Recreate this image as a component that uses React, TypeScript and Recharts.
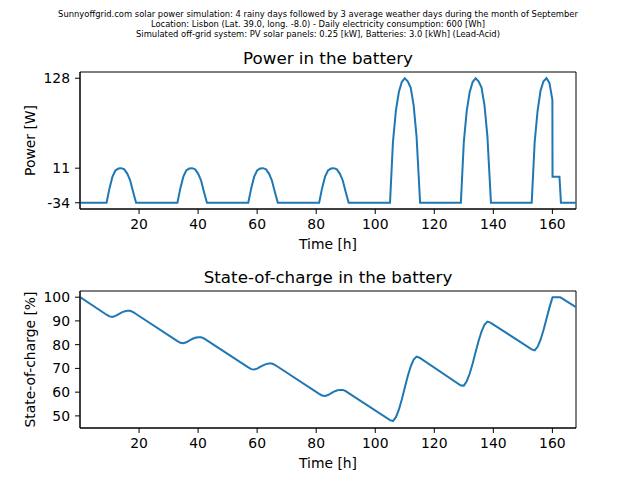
import React from "react";
import { LineChart, Line, XAxis, YAxis, ReferenceArea } from "recharts";

const FONT = "'DejaVu Sans', sans-serif";
const BLUE = "#1f77b4";

const titleLines = [
  "Sunnyoffgrid.com solar power simulation: 4 rainy days followed by 3 average weather days during the month of September",
  "Location: Lisbon (Lat. 39.0, long. -8.0) - Daily electricity consumption: 600 [Wh]",
  "Simulated off-grid system: PV solar panels: 0.25 [kW], Batteries: 3.0 [kWh] (Lead-Acid)",
];

const hourTicks = [20, 40, 60, 80, 100, 120, 140, 160];
const powerTicks = [-34, 11, 128];
const socTicks = [50, 60, 70, 80, 90, 100];

// battery power (vertices only, flat night stretches are two points)
const powerHours = [
  0, 9, 10, 11, 12, 13, 14, 15, 16, 17, 18, 19,
  33, 34, 35, 36, 37, 38, 39, 40, 41, 42, 43,
  57, 58, 59, 60, 61, 62, 63, 64, 65, 66, 67,
  81, 82, 83, 84, 85, 86, 87, 88, 89, 90, 91,
  105, 106, 107, 108, 109, 110, 111, 112, 113, 114, 115.2,
  129, 130, 131, 132, 133, 134, 135, 136, 137, 138, 139.2,
  153, 154, 155, 156, 157, 158, 159, 160, 160.05, 162.4, 162.9, 168,
];
const powerWatts = [
  -34, -34, -15, 0, 8, 10.5, 11, 9.5, 4, -5, -20, -34,
  -34, -15, 0, 8, 10.5, 11, 9.5, 4, -5, -20, -34,
  -34, -15, 0, 8, 10.5, 11, 9.5, 4, -5, -20, -34,
  -34, -15, 0, 8, 10.5, 11, 9.5, 4, -5, -20, -34,
  -34, 45, 86, 110, 123, 128, 124, 116, 93, 52, -34,
  -34, 45, 86, 110, 123, 128, 124, 116, 93, 52, -34,
  -34, 45, 86, 112, 124, 128, 122, 100, 0, 0, -34, -34,
];

// state of charge
const socHours = [
  0, 9, 10, 11, 12, 13, 14, 15, 16, 17, 18, 19,
  33, 34, 35, 36, 37, 38, 39, 40, 41, 42, 43,
  57, 58, 59, 60, 61, 62, 63, 64, 65, 66, 67,
  81, 82, 83, 84, 85, 86, 87, 88, 89, 90, 91,
  105, 106, 107, 108, 109, 110, 111, 112, 113, 114, 115,
  129, 130, 131, 132, 133, 134, 135, 136, 137, 138, 139,
  153, 154, 155, 156, 157, 158, 159, 160, 160.1, 162.6, 163, 168,
];
const socPercent = [
  100, 92.6, 91.9, 91.7, 92.1, 92.8, 93.5, 94.0, 94.25, 94.25, 93.7, 92.9,
  81.5, 80.8, 80.6, 81.0, 81.7, 82.4, 82.9, 83.15, 83.15, 82.6, 81.8,
  70.4, 69.7, 69.5, 69.9, 70.6, 71.3, 71.8, 72.05, 72.05, 71.5, 70.7,
  59.3, 58.6, 58.4, 58.8, 59.5, 60.2, 60.7, 60.95, 60.95, 60.4, 59.6,
  48.2, 47.85, 49.45, 52.6, 56.9, 61.85, 66.7, 70.8, 73.7, 74.95, 74.5,
  62.8, 62.75, 64.6, 67.85, 72.1, 76.9, 81.55, 85.55, 88.4, 89.7, 89.3,
  78.0, 77.6, 79.1, 82.1, 86.2, 90.9, 95.6, 99.8, 100, 100, 99.7, 95.8,
];

const powerData = powerHours.map((t, i) => ({ t, w: powerWatts[i] }));
const socData = socHours.map((t, i) => ({ t, soc: socPercent[i] }));

const tickStyle = { fill: "#000", fontSize: 13.9, fontFamily: FONT };

const Panel = ({
  data,
  dataKey,
  domain,
  yTicks,
  top,
  marginTop,
  marginBottom,
}: {
  data: any[];
  dataKey: string;
  domain: [number, number];
  yTicks: number[];
  top: number;
  marginTop: number;
  marginBottom: number;
}) => (
  <div style={{ position: "absolute", left: 0, top }}>
    <LineChart
      width={640}
      height={240}
      data={data}
      margin={{ top: marginTop, right: 64, bottom: marginBottom, left: 20 }}
    >
      <XAxis
        dataKey="t"
        type="number"
        domain={[0, 168]}
        ticks={hourTicks}
        interval={0}
        allowDataOverflow
        height={30}
        tick={tickStyle}
        tickSize={5}
        tickMargin={5}
        tickLine={{ stroke: "#000" }}
        axisLine={{ stroke: "#000" }}
      />
      <YAxis
        type="number"
        domain={domain}
        ticks={yTicks}
        interval={0}
        allowDataOverflow
        width={60}
        tick={tickStyle}
        tickSize={5}
        tickMargin={5}
        tickLine={{ stroke: "#000" }}
        axisLine={{ stroke: "#000" }}
      />
      <ReferenceArea
        x1={0}
        x2={168}
        y1={domain[0]}
        y2={domain[1]}
        fill="none"
        stroke="#000"
        strokeWidth={1}
      />
      <Line
        dataKey={dataKey}
        type="linear"
        stroke={BLUE}
        strokeWidth={2}
        dot={false}
        isAnimationActive={false}
      />
    </LineChart>
  </div>
);

export default function App() {
  return (
    <div
      style={{
        position: "absolute",
        left: 0,
        top: 0,
        width: 640,
        height: 480,
        background: "#fff",
        fontFamily: FONT,
      }}
    >
      <Panel
        data={powerData}
        dataKey="w"
        domain={[-42.1, 136.1]}
        yTicks={powerTicks}
        top={0}
        marginTop={72}
        marginBottom={1}
      />
      <Panel
        data={socData}
        dataKey="soc"
        domain={[44.9, 102.6]}
        yTicks={socTicks}
        top={240}
        marginTop={51}
        marginBottom={22}
      />
      <svg
        width={640}
        height={480}
        style={{ position: "absolute", left: 0, top: 0, pointerEvents: "none" }}
        fontFamily={FONT}
        fill="#000"
      >
        {titleLines.map((line, i) => (
          <text key={i} x={318} y={17 + i * 10} fontSize={8.4} textAnchor="middle">
            {line}
          </text>
        ))}
        <text x={328} y={64} fontSize={16.7} textAnchor="middle">
          Power in the battery
        </text>
        <text x={328} y={283} fontSize={16.7} textAnchor="middle">
          State-of-charge in the battery
        </text>
        <text x={328} y={249} fontSize={13.9} textAnchor="middle">
          Time [h]
        </text>
        <text x={328} y={468} fontSize={13.9} textAnchor="middle">
          Time [h]
        </text>
        <text transform="translate(35,140.5) rotate(-90)" fontSize={13.9} textAnchor="middle">
          Power [W]
        </text>
        <text transform="translate(35,359.5) rotate(-90)" fontSize={13.9} textAnchor="middle">
          State-of-charge [%]
        </text>
      </svg>
    </div>
  );
}
